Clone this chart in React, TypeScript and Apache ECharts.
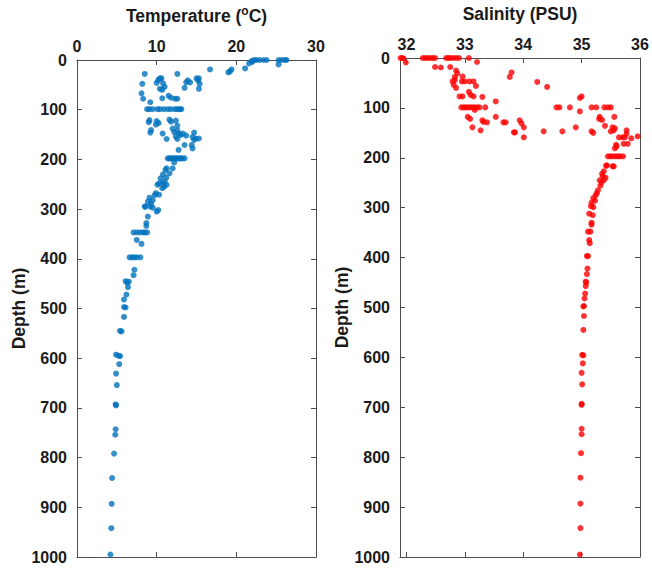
import React, { useEffect, useRef } from "react";
import * as echarts from "echarts";

// Temperature profile (°C) and depth (m)
const tempT = [
  21.6, 21.9, 22.2, 22.5, 22.9, 23.4, 23.8, 25.3, 25.3, 25.7, 26.1, 26.3, 22.0,
  21.1, 19.4, 19.2, 19.0, 16.7,
  15.3, 15.2, 15.4, 15.3, 15.0, 13.9, 13.7, 14.2, 13.5, 12.6,
  8.5, 8.2, 8.1, 8.3,
  10.0, 10.2, 10.4, 10.6, 10.8, 11.0, 10.4, 10.7,
  9.2, 10.7, 11.5, 11.8, 12.3, 12.6,
  8.8, 9.1, 9.5, 10.1, 10.4, 10.9, 11.4, 11.8, 12.3, 12.6, 12.9, 13.1,
  9.1, 9.0, 10.0, 10.25, 9.9, 9.3, 9.2, 10.75, 11.25,
  11.6, 11.8, 12.4, 12.6, 12.0, 12.2, 12.6, 12.8, 12.4, 13.0, 13.3, 12.6,
  13.7, 14.7, 14.5, 14.9, 15.3, 14.7, 14.4, 14.5, 13.5, 12.75,
  11.4, 11.6, 11.8, 12.0, 12.2, 12.4, 12.6, 12.8, 13.0, 13.2, 13.5,
  12.2, 11.25, 11.1, 12.0, 10.8, 11.6, 10.5, 11.2, 10.3, 10.1, 10.7, 10.95, 11.25, 10.7, 11.0,
  9.9, 10.3, 9.75, 9.1, 9.5, 8.9, 9.3, 8.6, 8.5, 9.2, 9.5, 10.2, 10.0, 8.9,
  8.7, 8.7,
  7.1, 7.5, 7.9, 8.3, 8.5, 8.8,
  7.5, 8.1,
  6.6, 6.9, 7.2, 7.5, 7.95,
  7.2, 7.1, 6.1, 6.3, 6.5, 6.4, 6.2, 5.9, 5.9, 6.1, 5.9, 5.4, 5.6, 4.9, 5.2, 5.4,
  5.3, 4.9, 5.0, 4.85, 4.9, 4.85, 4.8, 4.65, 4.4, 4.35, 4.3, 4.2,
];
const tempD = [
  7, 2, 0, 0, 0, 0, 0, 0, 9, 0, 0, 0, 4,
  17, 19, 23, 25, 19,
  37, 41, 48, 58, 37, 41, 45, 45, 56, 28,
  28, 48, 67, 78,
  46, 40, 37, 37, 47, 54, 58, 60,
  85, 77, 72, 76, 78, 78,
  99, 99, 99, 99, 99, 99, 99, 99, 99, 99, 99, 99,
  121, 125, 123, 127, 130, 141, 146, 148, 159,
  120, 124, 122, 132, 138, 145, 142, 148, 154, 151, 148, 159,
  152, 146, 155, 158, 158, 161, 171, 178, 171, 181,
  198, 198, 198, 198, 198, 198, 198, 198, 198, 198, 198,
  206, 218, 221, 218, 230, 228, 238, 237, 248, 251, 248, 255, 251, 258, 245,
  268, 271, 272, 277, 282, 285, 289, 295, 295, 295, 297, 302, 305, 315,
  328, 334,
  347, 347, 347, 347, 347, 347,
  362, 370,
  397, 397, 397, 397, 397,
  422, 433, 445, 448, 446, 457, 472, 482, 497, 498, 517, 545, 546, 593, 595, 596,
  612, 631, 654, 693, 695, 743, 754, 792, 841, 893, 942, 995,
];

// Salinity profile (PSU) and depth (m)
const salS = [
  31.9, 31.93, 31.95, 31.99,
  32.28, 32.32, 32.36, 32.4, 32.45, 32.49,
  32.68, 32.72, 32.75, 32.8, 32.85, 32.9,
  33.07, 33.21,
  32.49, 32.59, 32.75,
  32.85, 32.87, 32.83, 32.79, 32.81, 32.85, 32.83,
  32.96, 32.95, 33.0, 33.08, 33.15, 33.19,
  33.07, 33.1, 32.91, 32.96, 33.15, 33.3,
  33.8, 33.77, 34.24, 34.41, 33.53,
  32.94, 32.98, 33.01, 33.05, 33.09, 33.13, 33.17, 33.21, 33.25, 33.35,
  34.57, 34.62, 34.8, 34.97, 34.97, 35.0,
  35.17, 35.25, 35.39, 35.45, 35.5,
  35.31, 35.56,
  33.17, 33.09, 33.05, 33.13, 33.3, 33.32, 33.38, 33.27, 33.53, 33.66, 33.7, 33.84, 33.94, 33.97, 34.01, 34.01, 33.86,
  34.35, 34.67, 34.9,
  35.17, 35.2, 35.3, 35.35, 35.4, 35.5, 35.55, 35.53, 35.57,
  35.64, 35.7, 35.74, 35.77, 35.77, 35.85, 35.96, 35.72, 35.79, 35.6, 35.59, 35.57,
  35.45, 35.49, 35.53, 35.58, 35.62, 35.66, 35.71,
  35.55, 35.53, 35.42, 35.43, 35.38, 35.35, 35.36, 35.34, 35.31, 35.32, 35.38, 35.41,
  35.28, 35.26, 35.24, 35.2, 35.17, 35.23, 35.2, 35.16, 35.19, 35.13,
  35.17, 35.17, 35.11, 35.15, 35.13, 35.14, 35.09, 35.11, 35.1, 35.09, 35.07, 35.08,
  35.07, 35.06, 35.05, 35.04, 35.03, 35.04, 35.03, 35.01, 35.03, 35.02, 35.0, 35.01,
  35.0, 35.0, 35.0, 35.0, 34.99, 34.98, 34.98, 34.98, 34.97,
];
const salD = [
  0, 0, 1, 9,
  0, 0, 0, 0, 0, 0,
  0, 0, 0, 0, 0, 0,
  0, 8,
  18, 19, 18,
  25, 31, 38, 47, 54, 60, 44,
  37, 47, 47, 47, 47, 56,
  68, 74, 77, 77, 77, 78,
  29, 38, 48, 58, 87,
  99, 99, 99, 99, 99, 99, 99, 99, 99, 99,
  99, 99, 99, 107, 80, 77,
  99, 99, 99, 99, 99,
  118, 118,
  104, 122, 118, 139, 125, 128, 129, 145, 118, 129, 129, 149, 125, 131, 139, 159, 149,
  147, 147, 139,
  147, 150, 122, 124, 136, 147, 145, 139, 141,
  159, 159, 159, 145, 152, 161, 157, 172, 172, 177, 174, 181,
  197, 197, 197, 197, 197, 197, 197,
  217, 217, 216, 215, 227, 232, 237, 250, 245, 256, 245, 240,
  265, 271, 275, 281, 290, 286, 299, 297, 315, 312,
  330, 334, 348, 348, 365, 371, 397, 397, 422, 433, 448, 450,
  457, 472, 482, 497, 498, 517, 545, 595, 596, 612, 631, 654,
  693, 695, 743, 754, 792, 841, 893, 942, 995,
];

const tempTicks = [0, 10, 20, 30];
const salTicks = [32, 33, 34, 35, 36];

const FONT = "'Liberation Sans', Arial, Helvetica, sans-serif";
const TXT = "#1a1a1a";
const AX = "#4d4d4d";

function zip(xs: number[], ys: number[]) {
  return xs.map((x, i) => [x, ys[i]]);
}

export default function App() {
  const ref = useRef<HTMLDivElement>(null);
  useEffect(() => {
    if (!ref.current) return;
    const chart = echarts.init(ref.current, null, { renderer: "svg" });
    const labelStyle = { color: TXT, fontFamily: FONT, fontWeight: "bold" as const, fontSize: 16 };
    const axisLine = { show: true, onZero: false, lineStyle: { color: AX, width: 1 } };
    const tick = { show: true, inside: true, length: 5, lineStyle: { color: AX, width: 1 } };
    const titleRich = {
      t: { fontFamily: FONT, fontWeight: "bold" as const, fontSize: 17.5, color: TXT, lineHeight: 22 },
      sup: { fontFamily: FONT, fontWeight: "bold" as const, fontSize: 12, color: TXT, verticalAlign: "top" as const, lineHeight: 22, padding: [0, 0, 8, 0] },
    };
    const fmt = (v: number) => String(v);
    const makeX = (grid: number, min: number, max: number, ticks: number[], name: string) => [
      {
        type: "value", gridIndex: grid, position: "top", min, max,
        axisLine, axisTick: { ...tick, customValues: ticks },
        axisLabel: { ...labelStyle, margin: 6, customValues: ticks, formatter: fmt, showMinLabel: true, showMaxLabel: true },
        splitLine: { show: false },
        name, nameLocation: "middle", nameGap: 33,
        nameTextStyle: { rich: titleRich },
      },
      {
        type: "value", gridIndex: grid, position: "bottom", min, max,
        axisLine, axisTick: { ...tick, customValues: ticks },
        axisLabel: { show: false, customValues: ticks },
        splitLine: { show: false },
      },
    ];
    const makeY = (grid: number) => [
      {
        type: "value", gridIndex: grid, position: "left", inverse: true, min: 0, max: 1000, interval: 100,
        axisLine, axisTick: tick,
        axisLabel: { ...labelStyle, margin: 10, formatter: fmt },
        splitLine: { show: false },
        name: "Depth (m)", nameLocation: "middle", nameGap: 49, nameRotate: 90,
        nameTextStyle: { fontFamily: FONT, fontWeight: "bold", fontSize: 17.5, color: TXT },
      },
      {
        type: "value", gridIndex: grid, position: "right", inverse: true, min: 0, max: 1000, interval: 100,
        axisLine, axisTick: tick, axisLabel: { show: false }, splitLine: { show: false },
      },
    ];
    chart.setOption({
      animation: false,
      grid: [
        { left: 77, top: 58, width: 239, height: 499 },
        { left: 400, top: 58, width: 240, height: 499 },
      ],
      xAxis: [
        ...makeX(0, 0, 30, tempTicks, "{t|Temperature (}{sup|o}{t|C)}"),
        ...makeX(1, 31.89, 36, salTicks, "{t|Salinity (PSU)}"),
      ],
      yAxis: [...makeY(0), ...makeY(1)],
      series: [
        {
          type: "scatter", xAxisIndex: 0, yAxisIndex: 0, symbolSize: 6,
          itemStyle: { color: "#0072BD" }, data: zip(tempT, tempD),
        },
        {
          type: "scatter", xAxisIndex: 2, yAxisIndex: 2, symbolSize: 6,
          itemStyle: { color: "#FF0000" }, data: zip(salS, salD),
        },
      ],
    });
    return () => chart.dispose();
  }, []);
  return <div ref={ref} style={{ width: 652, height: 569, position: "absolute", left: 0, top: 0 }} />;
}
